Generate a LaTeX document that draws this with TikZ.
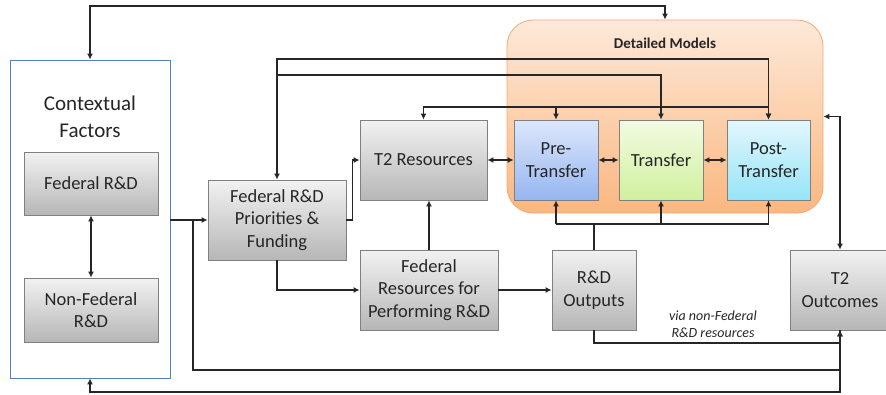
\documentclass[tikz,border=0pt]{standalone}
\usepackage{fontspec}
\setmainfont{Carlito}
\usetikzlibrary{arrows.meta}
\definecolor{txt}{RGB}{38,38,38}
\definecolor{boxedge}{RGB}{128,128,128}
\definecolor{gtop}{RGB}{242,242,242}
\definecolor{gbot}{RGB}{182,182,182}
\definecolor{dmtop}{RGB}{253,233,217}
\definecolor{dmbot}{RGB}{250,183,128}
\definecolor{dmedge}{RGB}{240,170,120}
\definecolor{pretop}{RGB}{220,231,252}
\definecolor{prebot}{RGB}{150,182,240}
\definecolor{trtop}{RGB}{242,251,226}
\definecolor{trbot}{RGB}{208,240,158}
\definecolor{posttop}{RGB}{226,247,253}
\definecolor{postbot}{RGB}{150,228,248}
\definecolor{ctxedge}{RGB}{79,129,189}
\tikzset{
  boxtext/.style={text=txt, align=center, font=\fontsize{18.5}{22.5}\selectfont},
  graybox/.style={boxtext, draw=boxedge, line width=0.8pt, top color=gtop, bottom color=gbot, inner sep=0pt},
  conn/.style={line width=1.5pt, black!85},
  >={Latex[length=6pt,width=6pt]}
}
\begin{document}
\begin{tikzpicture}[x=1pt,y=-1pt]
\useasboundingbox (0,0) rectangle (886,394);
% containers
\node[draw=ctxedge, line width=0.8pt, fill=white, minimum width=160pt, minimum height=318pt, inner sep=0pt] (ctx) at (90,219) {};
\node[boxtext, font=\fontsize{21}{27}\selectfont] (ctxlabel) at (90,117) {Contextual\\Factors};
\node[draw=dmedge, line width=0.8pt, top color=dmtop, bottom color=dmbot, rounded corners=26pt, minimum width=316pt, minimum height=193pt, inner sep=0pt] (dm) at (665,116.5) {};
\node[text=txt, font=\fontsize{15}{18}\selectfont\bfseries] (dmlabel) at (665,43) {Detailed Models};
% boxes
\node[graybox, minimum width=134pt, minimum height=63pt] (fed) at (91,183.5) {Federal R\&D};
\node[graybox, minimum width=134pt, minimum height=64pt] (nonfed) at (91,310) {Non-Federal\\R\&D};
\node[graybox, minimum width=138pt, minimum height=80pt] (prio) at (277,220) {Federal R\&D\\Priorities \&\\Funding};
\node[graybox, minimum width=127pt, minimum height=80pt] (t2res) at (423.5,160) {T2 Resources};
\node[graybox, minimum width=138pt, minimum height=80pt] (fedres) at (429,290) {Federal\\Resources for\\Performing R\&D};
\node[graybox, minimum width=84pt, minimum height=80pt] (rdout) at (594,290) {R\&D\\Outputs};
\node[graybox, minimum width=100pt, minimum height=80pt] (t2out) at (840,290) {T2\\Outcomes};
\node[graybox, top color=pretop, bottom color=prebot, minimum width=84pt, minimum height=80pt] (pre) at (556,160) {Pre-\\Transfer};
\node[graybox, top color=trtop, bottom color=trbot, minimum width=84pt, minimum height=80pt] (tr) at (661,160) {Transfer};
\node[graybox, top color=posttop, bottom color=postbot, minimum width=83pt, minimum height=80pt] (post) at (768.5,160) {Post-\\Transfer};
\node[text=txt, align=center, font=\fontsize{14}{17}\selectfont\itshape] (via) at (713,324) {via non-Federal\\R\&D resources};
% helper coordinates
\coordinate (yA) at (0,6);
\coordinate (yB) at (0,59);
\coordinate (yC) at (0,75);
\coordinate (yD) at (0,107);
\coordinate (rj) at (594,224);
\coordinate (yE) at (0,343);
\coordinate (yF) at (0,370);
\coordinate (yG) at (0,392);
\coordinate (cj) at (193,220);
% connectors
\draw[conn,<->] (ctx.north) -- (ctx.north |- yA) -| (dm.north);
\draw[conn,<->] (prio.north) -- (prio.north |- yB) -| (post.north);
\draw[conn,->] (prio.north |- yC) -| (tr.north);
\draw[conn,<->] (t2res.north) -- (t2res.north |- yD) -| (post.north);
\draw[conn,->] (pre.north |- yD) -- (pre.north);
\draw[conn,<->] (t2res) -- (pre);
\draw[conn,<->] (pre) -- (tr);
\draw[conn,<->] (tr) -- (post);
\draw[conn,->] (prio.east) -- ++(6,0) |- (t2res.west);
\draw[conn,->] (prio.south) |- (fedres.west);
\draw[conn,->] (fedres.north) -- (fedres.north |- t2res.south);
\draw[conn,->] (fedres) -- (rdout);
\draw[conn] (rdout.north) -- (rj);
\draw[conn] (pre.south |- rj) -- (post.south |- rj);
\draw[conn,->] (pre.south |- rj) -- (pre.south);
\draw[conn,->] (tr.south |- rj) -- (tr.south);
\draw[conn,->] (post.south |- rj) -- (post.south);
\draw[conn,->] (rdout.south) -- (rdout.south |- yE) -| (t2out.south);
\draw[conn,->] (ctx.east |- prio.west) -- (prio.west);
\draw[conn,->] (cj) -- (cj |- yF) -| (t2out.south);
\draw[conn,->] (t2out.south) -- (t2out.south |- yG) -| (ctx.south);
\draw[conn,<->] (t2out.north) |- (dm.east);
\draw[conn,<->] (fed) -- (nonfed);
\end{tikzpicture}
\end{document}
